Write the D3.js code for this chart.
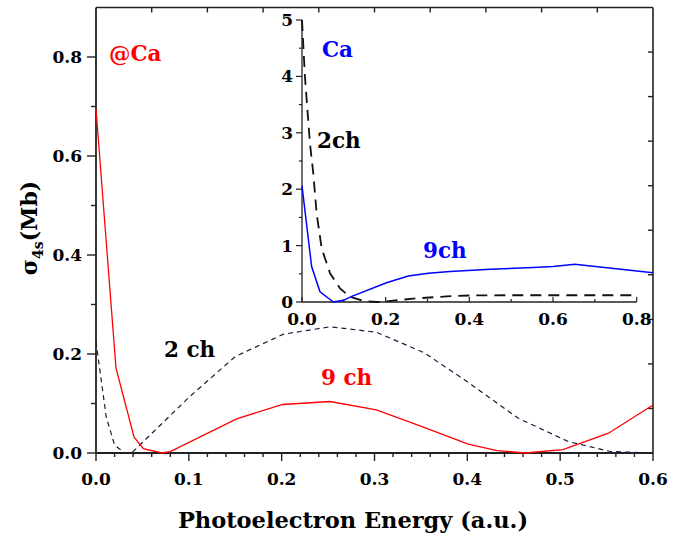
<!DOCTYPE html>
<html>
<head>
<meta charset="utf-8">
<script src="https://cdn.jsdelivr.net/npm/d3@7"></script>
<style>
  body { margin: 0; background: #fff; }
  text { font-family: "DejaVu Serif", serif; font-weight: bold; }
</style>
</head>
<body>
<svg id="chart" width="682" height="535"></svg>
<script>
// main panel: @Ca, 4s cross section
var mainX9 = [0, 0.0215, 0.041, 0.051, 0.071, 0.08, 0.1515, 0.201, 0.252, 0.302, 0.349, 0.401, 0.432, 0.462, 0.503, 0.552, 0.6];
var mainY9 = [0.695, 0.172, 0.032, 0.009, 0, 0.003, 0.069, 0.098, 0.104, 0.087, 0.055, 0.018, 0.005, 0, 0.007, 0.04, 0.097];
var mainX2 = [0, 0.011, 0.02, 0.031, 0.04, 0.101, 0.15, 0.202, 0.252, 0.302, 0.353, 0.4, 0.455, 0.509, 0.554, 0.6];
var mainY2 = [0.225, 0.073, 0.016, 0, 0.003, 0.114, 0.195, 0.24, 0.255, 0.244, 0.203, 0.144, 0.07, 0.023, 0.003, 0];
var mainXTicks = [0.0, 0.1, 0.2, 0.3, 0.4, 0.5, 0.6];
var mainYTicks = [0.0, 0.2, 0.4, 0.6, 0.8];

// inset: free Ca
var insetX9 = [0, 0.023, 0.043, 0.075, 0.099, 0.119, 0.202, 0.254, 0.302, 0.354, 0.45, 0.553, 0.6, 0.652, 0.839];
var insetY9 = [2.06, 0.63, 0.18, 0, 0.03, 0.1, 0.34, 0.46, 0.51, 0.54, 0.58, 0.61, 0.63, 0.67, 0.52];
var insetX2 = [0, 0.007, 0.019, 0.027, 0.035, 0.047, 0.067, 0.091, 0.115, 0.147, 0.178, 0.2, 0.266, 0.346, 0.4, 0.5, 0.6, 0.7, 0.8];
var insetY2 = [5.0, 4.0, 2.81, 2.28, 1.57, 0.95, 0.51, 0.24, 0.09, 0.02, 0, 0.01, 0.06, 0.1, 0.115, 0.12, 0.12, 0.12, 0.12];
var insetXTicks = [0.0, 0.2, 0.4, 0.6, 0.8];
var insetYTicks = [0, 1, 2, 3, 4, 5];

var svg = d3.select('#chart');
var axisColor = '#222';

var x = d3.scaleLinear().domain([0, 0.6]).range([96, 653]);
var y = d3.scaleLinear().domain([0, 0.9]).range([453, 7.5]);

//frame lines
svg.append('line').attr('x1', 96).attr('x2', 653).attr('y1', y(0.9)).attr('y2', y(0.9))
  .attr('stroke', axisColor).attr('stroke-width', 1.6);
svg.append('line').attr('x1', 653).attr('x2', 653).attr('y1', y(0.9)).attr('y2', 453)
  .attr('stroke', axisColor).attr('stroke-width', 1.6);

//top + right ticks every 1/10 of range, pointing in
d3.range(1, 10).forEach(function (i) {
  svg.append('line').attr('x1', x(i * 0.06)).attr('x2', x(i * 0.06))
    .attr('y1', y(0.9)).attr('y2', y(0.9) + 5).attr('stroke', axisColor).attr('stroke-width', 1.4);
  svg.append('line').attr('x1', 653).attr('x2', 648)
    .attr('y1', y(i * 0.09)).attr('y2', y(i * 0.09)).attr('stroke', axisColor).attr('stroke-width', 1.4);
});

var gx = svg.append('g').attr('transform', 'translate(0,453)');
gx.selectAll('.minor').data(d3.range(0, 31)).enter().append('line')
  .attr('x1', function (d) { return x(d * 0.02); }).attr('x2', function (d) { return x(d * 0.02); })
  .attr('y1', 0).attr('y2', function (d) { return d % 5 === 0 ? 8 : 4; })
  .attr('stroke', axisColor).attr('stroke-width', 1.4);
gx.append('line').attr('x1', 96).attr('x2', 653).attr('stroke', axisColor).attr('stroke-width', 1.8);
gx.selectAll('.lab').data(mainXTicks).enter().append('text')
  .attr('x', function (d) { return x(d); }).attr('y', 32)
  .attr('text-anchor', 'middle').attr('font-size', 17)
  .text(function (d) { return d.toFixed(1); });

var gy = svg.append('g').attr('transform', 'translate(96,0)');
gy.selectAll('.minor').data(d3.range(0, 9)).enter().append('line')
  .attr('y1', function (d) { return y(d * 0.1); }).attr('y2', function (d) { return y(d * 0.1); })
  .attr('x1', 0).attr('x2', function (d) { return d % 2 === 0 ? -9 : -5; })
  .attr('stroke', axisColor).attr('stroke-width', 1.4);
gy.append('line').attr('y1', y(0.9)).attr('y2', 453).attr('stroke', axisColor).attr('stroke-width', 1.8);
gy.selectAll('.lab').data(mainYTicks).enter().append('text')
  .attr('x', -14).attr('y', function (d) { return y(d) + 6; })
  .attr('text-anchor', 'end').attr('font-size', 17)
  .text(function (d) { return d.toFixed(1); });

//axis titles
svg.append('text').attr('x', 353).attr('y', 528).attr('text-anchor', 'middle')
  .attr('font-size', 22.5).text('Photoelectron Energy (a.u.)');
var yt = svg.append('text').attr('transform', 'translate(37,228) rotate(-90)')
  .attr('text-anchor', 'middle').attr('font-size', 22);
yt.append('tspan').text('σ');
yt.append('tspan').attr('font-size', 14).attr('dy', 6).text('4s');
yt.append('tspan').attr('dy', -6).text('(Mb)');

var line = d3.line().x(function (d) { return x(d[0]); }).y(function (d) { return y(d[1]); });
svg.append('path').datum(d3.zip(mainX2, mainY2)).attr('d', line)
  .attr('fill', 'none').attr('stroke', '#1c1c3c').attr('stroke-width', 1.2).attr('stroke-dasharray', '5,4');
svg.append('path').datum(d3.zip(mainX9, mainY9)).attr('d', line)
  .attr('fill', 'none').attr('stroke', '#ff0000').attr('stroke-width', 1.3);

svg.append('text').attr('x', 109).attr('y', 61).attr('font-size', 21.5).attr('fill', '#ff0000').text('@Ca');
svg.append('text').attr('x', 164).attr('y', 357).attr('font-size', 21.5).attr('fill', '#000').text('2 ch');
svg.append('text').attr('x', 321).attr('y', 385).attr('font-size', 21.5).attr('fill', '#ff0000').text('9 ch');

// ---- inset ----
var xi = d3.scaleLinear().domain([0, 0.839]).range([302, 653]);
var yi = d3.scaleLinear().domain([0, 5]).range([302, 20]);
var gi = svg.append('g');

gi.selectAll('.iyt').data(d3.range(0, 11)).enter().append('line')
  .attr('y1', function (d) { return yi(d * 0.5); }).attr('y2', function (d) { return yi(d * 0.5); })
  .attr('x1', 302).attr('x2', function (d) { return d % 2 === 0 ? 296 : 299; })
  .attr('stroke', axisColor).attr('stroke-width', 1.2);
gi.append('line').attr('x1', 302).attr('x2', 302).attr('y1', yi(5)).attr('y2', yi(0))
  .attr('stroke', axisColor).attr('stroke-width', 1.3);
gi.selectAll('.ixt').data(d3.range(0, 9)).enter().append('line')
  .attr('x1', function (d) { return xi(d * 0.1); }).attr('x2', function (d) { return xi(d * 0.1); })
  .attr('y1', 302).attr('y2', function (d) { return d % 2 === 0 ? 297 : 299; })
  .attr('stroke', axisColor).attr('stroke-width', 1.2);
gi.append('line').attr('x1', 302).attr('x2', xi(0.8)).attr('y1', 302).attr('y2', 302)
  .attr('stroke', axisColor).attr('stroke-width', 1.3);
gi.selectAll('.ixl').data(insetXTicks).enter().append('text')
  .attr('x', function (d) { return xi(d); }).attr('y', 325)
  .attr('text-anchor', 'middle').attr('font-size', 17)
  .text(function (d) { return d.toFixed(1); });
gi.selectAll('.iyl').data(insetYTicks).enter().append('text')
  .attr('x', 293).attr('y', function (d) { return yi(d) + 6; })
  .attr('text-anchor', 'end').attr('font-size', 17)
  .text(function (d) { return d; });

var linei = d3.line().x(function (d) { return xi(d[0]); }).y(function (d) { return yi(d[1]); });
gi.append('path').datum(d3.zip(insetX2, insetY2)).attr('d', linei)
  .attr('fill', 'none').attr('stroke', '#111').attr('stroke-width', 1.8).attr('stroke-dasharray', '11,7');
gi.append('path').datum(d3.zip(insetX9, insetY9)).attr('d', linei)
  .attr('fill', 'none').attr('stroke', '#0000ff').attr('stroke-width', 1.5);

gi.append('text').attr('x', 322).attr('y', 57).attr('font-size', 21.5).attr('fill', '#0000ff').text('Ca');
gi.append('text').attr('x', 317).attr('y', 148).attr('font-size', 21.5).attr('fill', '#000').text('2ch');
gi.append('text').attr('x', 423).attr('y', 258).attr('font-size', 21.5).attr('fill', '#0000ff').text('9ch');
</script>
</body>
</html>
